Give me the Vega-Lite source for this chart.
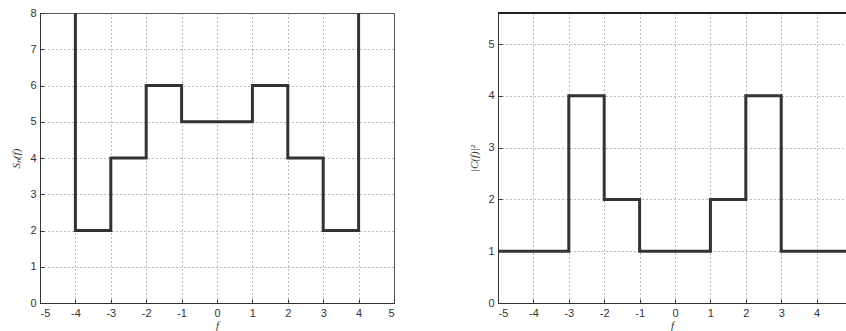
{
  "$schema": "https://vega.github.io/schema/vega-lite/v6.json",
  "padding": {"left": 10, "top": 6, "right": 0, "bottom": 5},
  "background": "white",
  "spacing": 104,
  "bounds": "flush",
  "datasets": {
    "sn": [
      {"k": 0, "f": -4, "v": 8},
      {"k": 1, "f": -4, "v": 2},
      {"k": 2, "f": -3, "v": 2},
      {"k": 3, "f": -3, "v": 4},
      {"k": 4, "f": -2, "v": 4},
      {"k": 5, "f": -2, "v": 6},
      {"k": 6, "f": -1, "v": 6},
      {"k": 7, "f": -1, "v": 5},
      {"k": 8, "f": 1, "v": 5},
      {"k": 9, "f": 1, "v": 6},
      {"k": 10, "f": 2, "v": 6},
      {"k": 11, "f": 2, "v": 4},
      {"k": 12, "f": 3, "v": 4},
      {"k": 13, "f": 3, "v": 2},
      {"k": 14, "f": 4, "v": 2},
      {"k": 15, "f": 4, "v": 8}
    ],
    "cf": [
      {"k": 0, "f": -5, "v": 1},
      {"k": 1, "f": -3, "v": 1},
      {"k": 2, "f": -3, "v": 4},
      {"k": 3, "f": -2, "v": 4},
      {"k": 4, "f": -2, "v": 2},
      {"k": 5, "f": -1, "v": 2},
      {"k": 6, "f": -1, "v": 1},
      {"k": 7, "f": 1, "v": 1},
      {"k": 8, "f": 1, "v": 2},
      {"k": 9, "f": 2, "v": 2},
      {"k": 10, "f": 2, "v": 4},
      {"k": 11, "f": 3, "v": 4},
      {"k": 12, "f": 3, "v": 1},
      {"k": 13, "f": 5, "v": 1}
    ]
  },
  "config": {
    "view": {"stroke": null},
    "axis": {
      "grid": true,
      "gridDash": [1, 3],
      "gridColor": "#666",
      "gridOpacity": 0.9,
      "domainColor": "#333",
      "tickColor": "#333",
      "tickSize": -4,
      "labelFont": "Liberation Sans",
      "labelFontSize": 11,
      "labelColor": "#333",
      "labelPadding": 8,
      "labelExpr": "datum.value < 0 ? '-' + abs(datum.value) : '' + datum.value",
      "titleFont": "Liberation Serif",
      "titleFontStyle": "italic",
      "titleFontWeight": "normal",
      "titleFontSize": 11,
      "titleColor": "#333"
    }
  },
  "hconcat": [
    {
      "width": 354,
      "height": 290,
      "view": {"stroke": "#555", "strokeWidth": 1},
      "data": {"name": "sn"},
      "mark": {"type": "line", "color": "#333", "strokeWidth": 3, "clip": true},
      "encoding": {
        "x": {"field": "f", "type": "quantitative", "scale": {"domain": [-5, 5], "nice": false}, "axis": {"title": "f", "values": [-5,-4,-3,-2,-1,0,1,2,3,4,5], "titlePadding": 1}},
        "y": {"field": "v", "type": "quantitative", "scale": {"domain": [0, 8], "nice": false}, "axis": {"title": "Sₙ(f)", "values": [0,1,2,3,4,5,6,7,8], "titlePadding": 8}},
        "order": {"field": "k"}
      }
    },
    {
      "width": 348,
      "height": 290,
      "data": {"name": "cf"},
      "layer": [
        {
          "mark": {"type": "line", "color": "#333", "strokeWidth": 3, "clip": true},
          "encoding": {
            "x": {"field": "f", "type": "quantitative", "scale": {"domain": [-5, 4.83], "nice": false}, "axis": {"title": "f", "values": [-5,-4,-3,-2,-1,0,1,2,3,4], "titlePadding": 1}},
            "y": {"field": "v", "type": "quantitative", "scale": {"domain": [0, 5.6], "nice": false}, "axis": {"title": "|C(f)|²", "values": [0,1,2,3,4,5], "titlePadding": 8}},
            "order": {"field": "k"}
          }
        },
        {
          "mark": {"type": "rule", "color": "#222", "strokeWidth": 1.5},
          "encoding": {
            "y": {"datum": 5.6, "type": "quantitative"}
          }
        }
      ]
    }
  ]
}
